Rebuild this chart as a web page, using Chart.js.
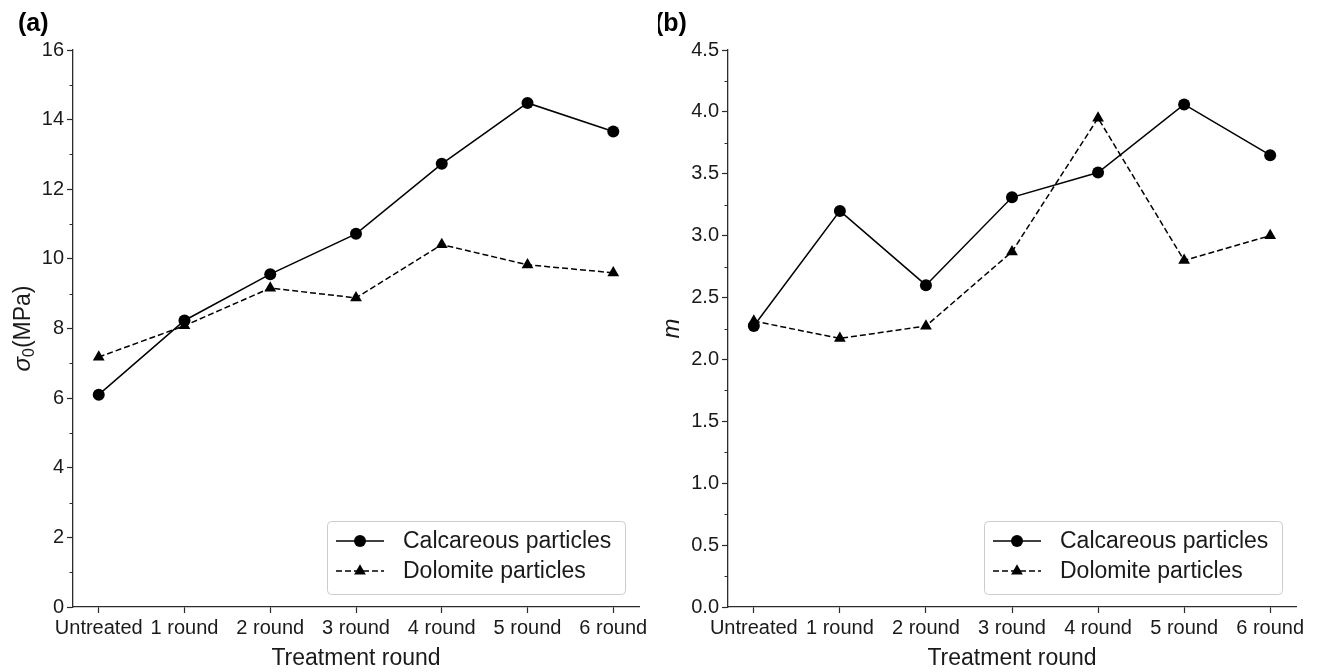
<!DOCTYPE html>
<html>
<head>
<meta charset="utf-8">
<script src="https://cdn.jsdelivr.net/npm/chart.js@4.4.1/dist/chart.umd.min.js"></script>
<style>
  html, body { margin: 0; padding: 0; background: #ffffff; }
  #wrap { position: relative; width: 1317px; height: 672px; overflow: hidden; }
  .panel { position: absolute; top: 0; height: 672px; }
  #pa { left: 0; width: 658px; }
  #pb { left: 658px; width: 659px; }
</style>
</head>
<body>
<div id="wrap">
  <div class="panel" id="pa"><canvas id="chartA"></canvas></div>
  <div class="panel" id="pb"><canvas id="chartB"></canvas></div>
</div>
<script>
// ---- data ----
const categories = ['Untreated', '1 round', '2 round', '3 round', '4 round', '5 round', '6 round'];
const seriesNames = ['Calcareous particles', 'Dolomite particles'];

// (a) characteristic strength sigma_0 (MPa)
const sigmaCalcareous = [6.10, 8.23, 9.56, 10.72, 12.73, 14.48, 13.66];
const sigmaDolomite   = [7.18, 8.08, 9.16, 8.88, 10.41, 9.83, 9.60];

// (b) Weibull modulus m
const modulusCalcareous = [2.27, 3.20, 2.60, 3.31, 3.51, 4.06, 3.65];
const modulusDolomite   = [2.31, 2.17, 2.27, 2.87, 3.95, 2.80, 3.00];

// major y tick values
const sigmaTicks   = [0, 2, 4, 6, 8, 10, 12, 14, 16];
const modulusTicks = [0, 0.5, 1.0, 1.5, 2.0, 2.5, 3.0, 3.5, 4.0, 4.5];

// ---- styling ----
const FONT = "'Liberation Sans', Arial, Helvetica, sans-serif";
const TEXT = '#1a1a1a';
const AXIS = '#2b2b2b';

function makeDatasets(calc, dolo) {
  return [
    {
      label: seriesNames[0],
      data: calc.map((v, i) => ({ x: i, y: v })),
      borderColor: '#000', backgroundColor: '#000',
      pointBackgroundColor: '#000', pointBorderColor: '#000',
      borderWidth: 1.5, pointStyle: 'circle', pointRadius: 6, pointBorderWidth: 0,
      tension: 0
    },
    {
      label: seriesNames[1],
      data: dolo.map((v, i) => ({ x: i, y: v })),
      borderColor: '#000', backgroundColor: '#000',
      pointBackgroundColor: '#000', pointBorderColor: '#000',
      borderWidth: 1.5, borderDash: [6, 3], pointStyle: 'triangle', pointRadius: 6.8, pointBorderWidth: 0,
      tension: 0
    }
  ];
}

// minor ticks halfway between major ticks, framed legend, rotated y title and panel tag
const panelDecor = {
  id: 'panelDecor',
  afterDraw(chart, args, opts) {
    const { ctx, chartArea } = chart;
    const y = chart.scales.y;
    ctx.save();

    // minor ticks
    ctx.strokeStyle = AXIS;
    ctx.lineWidth = 1;
    const t = opts.majorTicks;
    for (let i = 0; i < t.length - 1; i++) {
      const py = Math.round(y.getPixelForValue((t[i] + t[i + 1]) / 2)) + 0.5;
      ctx.beginPath();
      ctx.moveTo(chartArea.left - 3.5, py);
      ctx.lineTo(chartArea.left, py);
      ctx.stroke();
    }

    // legend box
    const w = 298, h = 73;
    const x0 = chartArea.right - 14 - w;
    const y0 = chartArea.bottom - 13 - h;
    ctx.beginPath();
    ctx.roundRect(x0 + 0.5, y0 + 0.5, w, h, 4);
    ctx.fillStyle = 'rgba(255,255,255,0.85)';
    ctx.fill();
    ctx.strokeStyle = '#cccccc';
    ctx.lineWidth = 1;
    ctx.stroke();
    chart.data.datasets.forEach((ds, i) => {
      const yy = y0 + 20 + i * 30;
      ctx.strokeStyle = ds.borderColor;
      ctx.lineWidth = ds.borderWidth;
      ctx.setLineDash(ds.borderDash || []);
      ctx.beginPath();
      ctx.moveTo(x0 + 9, yy);
      ctx.lineTo(x0 + 57, yy);
      ctx.stroke();
      ctx.setLineDash([]);
      ctx.fillStyle = ds.pointBackgroundColor;
      Chart.helpers.drawPoint(ctx, { pointStyle: ds.pointStyle, radius: ds.pointRadius, rotation: 0, borderWidth: 0 }, x0 + 33, yy);
      ctx.fillStyle = TEXT;
      ctx.font = '23px ' + FONT;
      ctx.textAlign = 'left';
      ctx.textBaseline = 'middle';
      ctx.fillText(ds.label, x0 + 76, yy + 1);
    });

    // rotated y-axis title built from styled pieces
    const cy = (chartArea.top + chartArea.bottom) / 2;
    let total = 0;
    opts.titleParts.forEach(p => { ctx.font = p.font; total += ctx.measureText(p.text).width; });
    ctx.translate(opts.titleX, cy);
    ctx.rotate(-Math.PI / 2);
    ctx.fillStyle = TEXT;
    ctx.textAlign = 'left';
    ctx.textBaseline = 'alphabetic';
    let cx = -total / 2;
    opts.titleParts.forEach(p => {
      ctx.font = p.font;
      ctx.fillText(p.text, cx, p.dy || 0);
      cx += ctx.measureText(p.text).width;
    });
    ctx.setTransform(1, 0, 0, 1, 0, 0);

    // panel tag
    ctx.font = 'bold 25px ' + FONT;
    ctx.fillStyle = '#000';
    ctx.textAlign = 'left';
    ctx.textBaseline = 'alphabetic';
    ctx.fillText(opts.tag, opts.tagX, 31);
    ctx.restore();
  }
};

function buildChart(canvasId, calc, dolo, majorTicks, fmt, yWidth, padRight, decor) {
  return new Chart(document.getElementById(canvasId), {
    type: 'line',
    data: { datasets: makeDatasets(calc, dolo) },
    options: {
      responsive: true,
      maintainAspectRatio: false,
      animation: false,
      devicePixelRatio: 1,
      layout: { padding: { top: 50, right: padRight, bottom: 0, left: 0 } },
      plugins: {
        legend: { display: false },
        tooltip: { enabled: false },
        panelDecor: Object.assign({ majorTicks }, decor)
      },
      scales: {
        x: {
          type: 'linear',
          min: -0.3, max: 6.3,
          afterBuildTicks: s => { s.ticks = categories.map((c, i) => ({ value: i })); },
          afterFit: s => { s.height = 65; },
          ticks: {
            autoSkip: false, maxRotation: 0, minRotation: 0,
            padding: 3, color: TEXT,
            font: { family: FONT, size: 20 },
            callback: v => categories[v]
          },
          grid: { drawOnChartArea: false, tickLength: 6, tickColor: AXIS, tickWidth: 1.2 },
          border: { display: true, color: AXIS, width: 1.3 },
          title: {
            display: true, text: 'Treatment round', color: TEXT,
            font: { family: FONT, size: 23 }, padding: { top: 0, bottom: 0 }
          }
        },
        y: {
          type: 'linear',
          min: majorTicks[0], max: majorTicks[majorTicks.length - 1],
          afterBuildTicks: s => { s.ticks = majorTicks.map(v => ({ value: v })); },
          afterFit: s => { s.width = yWidth; },
          ticks: {
            padding: 3, color: TEXT,
            font: { family: FONT, size: 20 },
            callback: v => fmt(v)
          },
          grid: { drawOnChartArea: false, tickLength: 6, tickColor: AXIS, tickWidth: 1.2 },
          border: { display: true, color: AXIS, width: 1.3 }
        }
      }
    },
    plugins: [panelDecor]
  });
}

buildChart('chartA', sigmaCalcareous, sigmaDolomite, sigmaTicks, v => String(v), 73, 19, {
  tag: '(a)', tagX: 18, titleX: 30,
  titleParts: [
    { text: 'σ', font: 'italic 24px ' + FONT },
    { text: '0', font: '16px ' + FONT, dy: 4 },
    { text: '(MPa)', font: '23px ' + FONT }
  ]
});

buildChart('chartB', modulusCalcareous, modulusDolomite, modulusTicks, v => v.toFixed(1), 70, 21, {
  tag: '(b)', tagX: -3, titleX: 21,
  titleParts: [
    { text: 'm', font: 'italic 24px ' + FONT }
  ]
});
</script>
</body>
</html>
